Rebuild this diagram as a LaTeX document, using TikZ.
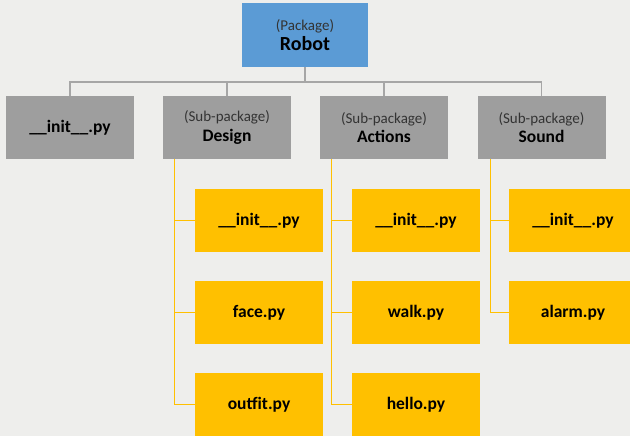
\documentclass[tikz,border=0pt]{standalone}
\usepackage{fontspec}
\setmainfont{Carlito}
\usetikzlibrary{calc}
\definecolor{paper}{RGB}{238,238,236}
\definecolor{pkgblue}{RGB}{91,155,213}
\definecolor{subgray}{RGB}{158,158,158}
\definecolor{fileyellow}{RGB}{255,192,0}
\definecolor{linegray}{RGB}{166,166,166}
\newcommand{\kindfont}{\fontsize{15}{18}\selectfont\color{black!80}}
\newcommand{\namefont}{\fontsize{17.5}{18}\selectfont\bfseries}
\newcommand{\initpy}{\_\_init\_\_.py}

\begin{document}
\begin{tikzpicture}[x=1pt,y=-1pt,
		box/.style={minimum width=128pt,minimum height=63pt,inner sep=0pt,align=center,text=black,font=\fontsize{15}{19.5}\selectfont},
		pkgbox/.style={box,fill=pkgblue,minimum width=126pt,minimum height=64pt,font=\fontsize{15}{19.5}\selectfont},
		subbox/.style={box,fill=subgray},
		filebox/.style={box,fill=fileyellow,font=\namefont},
		gline/.style={draw=linegray,line width=1.3pt},
		yline/.style={draw=fileyellow,line width=1.3pt}]
			\fill[paper] (0,0) rectangle (630,436);
			\useasboundingbox (0,0) rectangle (630,436);
			% package and sub-packages
			\node[pkgbox] (robot) at (305,35) {{\kindfont (Package)}\\{\fontsize{20}{20}\selectfont\bfseries Robot}};
			\node[subbox, font=\namefont] (init) at (70,127.5) {\initpy};
			\node[subbox] (design) at (227,127.5) {{\kindfont (Sub-package)}\\{\namefont Design}};
			\node[subbox] (actions) at (384,127.5) {{\kindfont (Sub-package)}\\{\namefont Actions}};
			\node[subbox] (sound) at (541.5,127.5) {{\kindfont (Sub-package)}\\{\namefont Sound}};
			\coordinate (bus) at (0,82);
			\draw[gline] (robot.south) -- (robot.south |- bus);
			\draw[gline] (init.north) |- (sound.north |- bus) -- (sound.north);
			\foreach \s in {design,actions} {\draw[gline] (\s.north) -- (\s.north |- bus);};
			% modules
			\foreach \n/\t in {1/\initpy,2/face.py,3/outfit.py} {\node[filebox] (design\n) at (259,128.5+92*\n) {\t};};
			\foreach \n/\t in {1/\initpy,2/walk.py,3/hello.py} {\node[filebox] (actions\n) at (416,128.5+92*\n) {\t};};
			\foreach \n/\t in {1/\initpy,2/alarm.py} {\node[filebox] (sound\n) at (573,128.5+92*\n) {\t};};
			% trunks
			\coordinate (dtrunk) at ($(design.south west)+(12,0)$);
			\coordinate (atrunk) at ($(actions.south west)+(12,0)$);
			\coordinate (strunk) at ($(sound.south west)+(13,0)$);
			\draw[yline] (dtrunk) |- (design3.west);
			\draw[yline] (atrunk) |- (actions3.west);
			\draw[yline] (strunk) |- (sound2.west);
			\foreach \n in {1,2} {\draw[yline] (dtrunk |- design\n.west) -- (design\n.west);
				\draw[yline] (atrunk |- actions\n.west) -- (actions\n.west);};
			\draw[yline] (strunk |- sound1.west) -- (sound1.west);
		\end{tikzpicture}
\end{document}
